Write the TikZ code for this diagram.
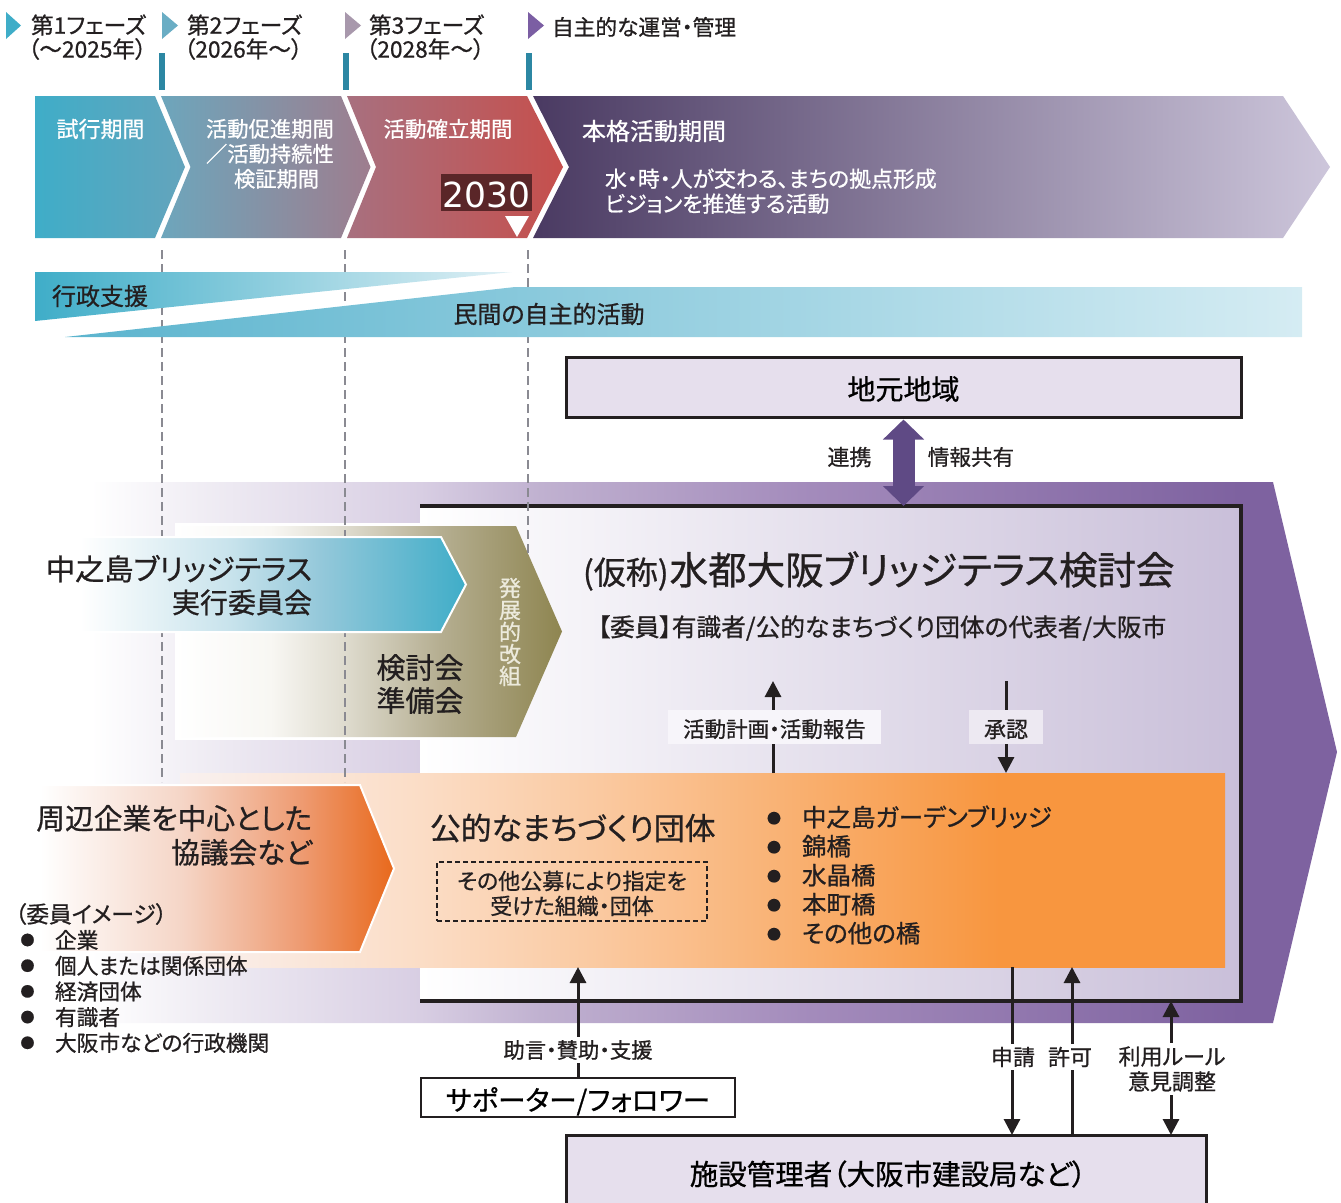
\documentclass[tikz,border=0pt]{standalone}
\usepackage{fontspec}
\setmainfont{Noto Sans CJK JP}[RawFeature={+palt},FakeBold=0.8]
\newfontfamily\latinf{DejaVu Sans}
\usetikzlibrary{arrows.meta,calc}
\definecolor{ink}{HTML}{231F20}
\definecolor{lilac}{HTML}{E6DFED}
\definecolor{tickc}{HTML}{2C87A3}
\definecolor{dashc}{HTML}{8A8A92}
\definecolor{blue1}{HTML}{3FADC8}
\definecolor{mk2}{HTML}{6AADC4}\definecolor{mk3}{HTML}{A898AC}\definecolor{mk4}{HTML}{7B5EA3}
\definecolor{c1r}{HTML}{64A4BC}\definecolor{c2l}{HTML}{6DA6BC}\definecolor{c2r}{HTML}{9E7D8E}
\definecolor{c3l}{HTML}{A8707F}\definecolor{c3r}{HTML}{C64F4C}\definecolor{c4l}{HTML}{4A3A62}\definecolor{c4r}{HTML}{CDC6DB}
\definecolor{dkred}{HTML}{5A2628}
\definecolor{band1r}{HTML}{E0F0F5}\definecolor{band2l}{HTML}{5BB4CE}\definecolor{band2r}{HTML}{D5ECF3}
\definecolor{dblarrow}{HTML}{5F4A85}\definecolor{frameR}{HTML}{C9BFD9}\definecolor{vtext}{HTML}{ECEADC}
\definecolor{keibox}{HTML}{F7F5FA}\definecolor{shobox}{HTML}{EDE9F2}
\definecolor{p1}{HTML}{F0EDF4}\definecolor{p2}{HTML}{D8CEE3}\definecolor{p3}{HTML}{C0B1D0}\definecolor{p4}{HTML}{A48CBC}\definecolor{p5}{HTML}{7E62A0}
\definecolor{t1}{HTML}{F8F7F3}\definecolor{t2}{HTML}{DEDBCE}\definecolor{t3}{HTML}{B5AE91}\definecolor{t4}{HTML}{8E8550}
\definecolor{b1}{HTML}{C8E3EC}\definecolor{b2}{HTML}{94C8DA}
\definecolor{o1}{HTML}{F5D5C6}\definecolor{o2}{HTML}{EE9A70}\definecolor{o3}{HTML}{E8691C}
\definecolor{g0}{HTML}{F9F1F0}\definecolor{g1}{HTML}{FBDDC6}\definecolor{g2}{HTML}{FAC9A0}\definecolor{g3}{HTML}{F8963F}
\pgfdeclarehorizontalshading{bigarrow}{100bp}{color(0bp)=(white);color(26.2bp)=(white);color(30.5bp)=(p1);color(39.1bp)=(p2);color(43.8bp)=(p3);color(54bp)=(p4);color(71.2bp)=(p5);color(100bp)=(p5)}
\pgfdeclarehorizontalshading{tanarrow}{100bp}{color(0bp)=(white);color(25bp)=(white);color(37.3bp)=(t1);color(47bp)=(t2);color(59.2bp)=(t3);color(75bp)=(t4);color(100bp)=(t4)}
\pgfdeclarehorizontalshading{bluearrow}{100bp}{color(0bp)=(white);color(29.7bp)=(white);color(47.3bp)=(b1);color(57.9bp)=(b2);color(75bp)=(blue1);color(100bp)=(blue1)}
\pgfdeclarehorizontalshading{orangearrow}{100bp}{color(0bp)=(white);color(26.4bp)=(white);color(46bp)=(o1);color(62.5bp)=(o2);color(75bp)=(o3);color(100bp)=(o3)}
\pgfdeclarehorizontalshading{orangeband}{100bp}{color(0bp)=(g0);color(25bp)=(g0);color(36.5bp)=(g1);color(45.1bp)=(g2);color(64.2bp)=(g3);color(100bp)=(g3)}
\newcommand\fs[1]{\fontsize{#1}{#1}\selectfont}
\newcommand\fsl[2]{\fontsize{#1}{#2}\selectfont}
\newcommand\mybul[1]{\makebox[#1][l]{\raisebox{3pt}{\fs{14}●}}}
% text set lower than the node centre by #1
\newcommand\lowertxt[2]{\raisebox{0pt}[\dimexpr0.76em+2\dimexpr#1\relax\relax][0pt]{#2}}
\tikzset{
  txt/.style={inner sep=0pt,outer sep=0pt,text=ink},
  wtxt/.style={inner sep=0pt,outer sep=0pt,text=white},
  stem/.style={draw=ink,line width=3pt},
  arr/.style={stem,-{Triangle[width=16pt,length=16pt]}},
  darr/.style={stem,{Triangle[width=16pt,length=16pt]}-{Triangle[width=16pt,length=16pt]}},
  guide/.style={draw=dashc,line width=2.6pt,dash pattern=on 9pt off 5pt},
  tickmark/.style={fill=tickc},
  lab/.style={txt,fill=white,inner xsep=2pt,inner ysep=3pt,font=\fs{22}},
  boxed/.style={draw=ink,line width=3pt,inner sep=0pt,outer sep=0pt},
}
\begin{document}
\begin{tikzpicture}[x=1pt,y=-1pt]
\useasboundingbox (0,0) rectangle (1341,1202);
% phase markers
\fill[blue1] (6,12)--(21,25.5)--(6,39)--cycle;
\fill[mk2] (162,12)--(178,25.5)--(162,39)--cycle;
\fill[mk3] (345,12)--(361,25.5)--(345,39)--cycle;
\fill[mk4] (528,12)--(544,25.5)--(528,39)--cycle;
\node[txt,anchor=west,font=\fs{22.7}] (ph1) at (31,25) {第1フェーズ};
\node[txt,anchor=west,font=\fs{22.7}] (ph1y) at (28,49) {（〜2025年）};
\node[txt,anchor=west,font=\fs{22.7}] (ph2) at (187,25) {第2フェーズ};
\node[txt,anchor=west,font=\fs{22.7}] (ph2y) at (184,49) {（2026年〜）};
\node[txt,anchor=west,font=\fs{22.7}] (ph3) at (369,25) {第3フェーズ};
\node[txt,anchor=west,font=\fs{22.7}] (ph3y) at (366,49) {（2028年〜）};
\node[txt,anchor=west,font=\fs{21.7}] (ph4) at (552,27) {自主的な運営・管理};
\fill[tickmark] (159,53) rectangle (165,90);
\fill[tickmark] (343,53) rectangle (349,90);
\fill[tickmark] (525.5,53) rectangle (531.5,90);
% chevrons
\shade[left color=blue1,right color=c1r] (35,96)--(155,96)--(185,167)--(155,238)--(35,238)--cycle;
\shade[left color=c2l,right color=c2r] (161,96)--(341,96)--(370.5,167)--(341,238)--(161,238)--(190.5,167)--cycle;
\shade[left color=c3l,right color=c3r] (347,96)--(527,96)--(563,167)--(527,238)--(347,238)--(376,167)--cycle;
\shade[left color=c4l,right color=c4r] (533,96)--(1283,96)--(1330,167)--(1283,238)--(533,238)--(569,167)--cycle;
\node[wtxt,font=\fs{22}] (t1) at (100.5,129) {試行期間};
\node[wtxt,font=\fsl{21.3}{25},align=left,anchor=north west] (t2) at (206,119) {活動促進期間\\／活動持続性\\\hspace*{28pt}検証期間};
\node[wtxt,font=\fs{21.5}] (t3) at (448,129) {活動確立期間};
\node[fill=dkred,text=white,inner sep=0pt,minimum width=91pt,minimum height=37pt,font=\latinf\fs{34.5}] (yr) at (486.5,192.5) {\lowertxt{1.5pt}{2030}};
\fill[white] (505,216)--(529,216)--(517,237)--cycle;
\node[wtxt,anchor=west,font=\fs{24}] (t4) at (582,131) {本格活動期間};
\node[wtxt,anchor=north west,align=left,font=\fsl{21.9}{25}] (t5) at (605,168.5) {水・時・人が交わる、まちの拠点形成\\ビジョンを推進する活動};
% big purple arrow
\shade[shading=bigarrow] (60,482)--(1273,482)--(1337,752)--(1273,1023)--(60,1023)--cycle;
\fill[white] (175,523) rectangle (421,740);
% frame
\node[shade,left color=white,right color=frameR,inner sep=0pt,outer sep=0pt,minimum width=821pt,minimum height=495pt] (frame) at (830.5,753.5) {};
% tan arrow
\shade[shading=tanarrow] (175,526)--(516,526)--(562,631.5)--(516,737)--(175,737)--cycle;
% orange band
\node[shading=orangeband,inner sep=0pt,outer sep=0pt,minimum width=1045pt,minimum height=194pt] (band) at (702.5,870) {};
\draw[ink,line width=3.6pt] (frame.north west)--(frame.north east)--(frame.south east)--(frame.south west);
% guides
\draw[guide] (162,250)--(162,782);
\draw[guide] (345,250)--(345,782);
\draw[guide] (528,250)--(528,553);
% bands
\shade[left color=blue1,right color=band1r] (35,272)--(512,272)--(35,321)--cycle;
\shade[left color=band2l,right color=band2r] (65,337)--(515,287)--(1302,287)--(1302,337)--cycle;
\node[txt,font=\fs{24}] (gyosei) at (100,296) {行政支援};
\node[txt,font=\fs{24}] (minkan) at (549,314) {民間の自主的活動};
% local box
\node[boxed,fill=lilac,minimum width=675pt,minimum height=60pt,font=\fs{28}] (chimoto) at (903.5,387) {\lowertxt{2pt}{地元地域}};
\draw[dblarrow,line width=22pt,{Triangle[width=40pt,length=20pt]}-{Triangle[width=40pt,length=20pt]},shorten <=2.5pt] (chimoto.south) -- (frame.north -| chimoto.south);
\node[txt,font=\fs{22}] (renkei) at (849.5,457) {連携};
\node[txt,font=\fs{21.6}] (joho) at (971,457) {情報共有};
% blue and orange arrows
\shade[shading=bluearrow,draw=white,line width=2pt] (40,537)--(441,537)--(466,584.5)--(441,632)--(40,632)--cycle;
\node[txt,anchor=north east,align=right,font=\fsl{29.2}{33}] (nakano) at (312,555) {中之島ブリッジテラス\\\fs{28}実行委員会};
\node[txt,align=center,font=\fsl{29}{33}] (junbi) at (420,684) {検討会\\準備会};
\node[txt,text=vtext,align=center,font=\fsl{22}{22}] (kaiso) at (510,632) {発\\展\\的\\改\\組};
\shade[shading=orangearrow,draw=white,line width=2pt] (30,785)--(360,785)--(394,868.5)--(360,952)--(30,952)--cycle;
\node[txt,anchor=north east,align=right,font=\fsl{28.7}{34}] (shuhen) at (312,805) {周辺企業を中心とした\\協議会など};
% main text
\node[txt,anchor=west] (kasho) at (583,571) {\fs{32}(仮称)\hspace{1pt}\fs{38.5}水都大阪ブリッジテラス検討会};
\node[txt,font=\fs{24.7}] (iin) at (882,628) {【委員】有識者/公的なまちづくり団体の代表者/大阪市};
% report / approval
\draw[arr] (band.north -| 773,0) -- (773,681);
\draw[arr] (1006,681) -- (band.north -| 1006,0);
\node[txt,fill=keibox,minimum width=213pt,minimum height=34pt,font=\fs{21.5}] (keikaku) at (774.5,727) {\lowertxt{2pt}{活動計画・活動報告}};
\node[txt,fill=shobox,minimum width=74pt,minimum height=34pt,font=\fs{22}] (shonin) at (1006,727) {\lowertxt{2pt}{承認}};
% band contents
\node[txt,anchor=west,font=\fs{30.8}] (kotekina) at (430,828) {公的なまちづくり団体};
\node[draw=ink,line width=2pt,dash pattern=on 5pt off 3pt,inner sep=0pt,minimum width=270pt,minimum height=59pt] (sonota) at (572,891.5) {};
\node[txt,align=center,font=\fsl{22}{25}] (sonotatxt) at (572,893.5) {その他公募により指定を\\受けた組織・団体};
\node[txt,anchor=north west,align=left,font=\fsl{24.5}{29}] (hashi) at (767,805.5) {%
\mybul{35pt}中之島ガーデンブリッジ\\
\mybul{35pt}錦橋\\
\mybul{35pt}水晶橋\\
\mybul{35pt}本町橋\\
\mybul{35pt}その他の橋};
\node[txt,anchor=west,font=\fs{22.7}] (image) at (15,914) {（委員イメージ）};
\node[txt,anchor=north west,align=left,font=\fsl{21.7}{25.7}] (kigyo) at (20.5,930) {%
\mybul{34.5pt}企業\\
\mybul{34.5pt}個人または関係団体\\
\mybul{34.5pt}経済団体\\
\mybul{34.5pt}有識者\\
\mybul{34.5pt}大阪市などの行政機関};
% lower boxes
\node[boxed,line width=2.6pt,fill=white,minimum width=314pt,minimum height=39pt,font=\fs{27.5}] (supporter) at (578,1097.5) {\lowertxt{2.5pt}{サポーター/フォロワー}};
\node[boxed,fill=lilac,minimum width=640pt,minimum height=78pt,font=\fs{28.5}] (shisetsu) at (886,1174) {\hspace*{4pt}施設管理者（大阪市建設局など）};
\draw[arr] (supporter.north) -- (band.south -| supporter.north);
\node[lab,font=\fs{21.3}] (jogen) at (578,1050) {助言・賛助・支援};
\draw[arr] (band.south -| 1012,0) -- (shisetsu.north -| 1012,0);
\draw[arr] (shisetsu.north -| 1072,0) -- (band.south -| 1072,0);
\draw[darr] (frame.south -| 1171,0) -- (shisetsu.north -| 1171,0);
\node[lab] (shinsei) at (1013,1057) {申請};
\node[lab] (kyoka) at (1070,1057) {許可};
\node[lab,align=center,font=\fsl{22}{25}] (riyo) at (1172,1069) {利用ルール\\意見調整};
\end{tikzpicture}
\end{document}
